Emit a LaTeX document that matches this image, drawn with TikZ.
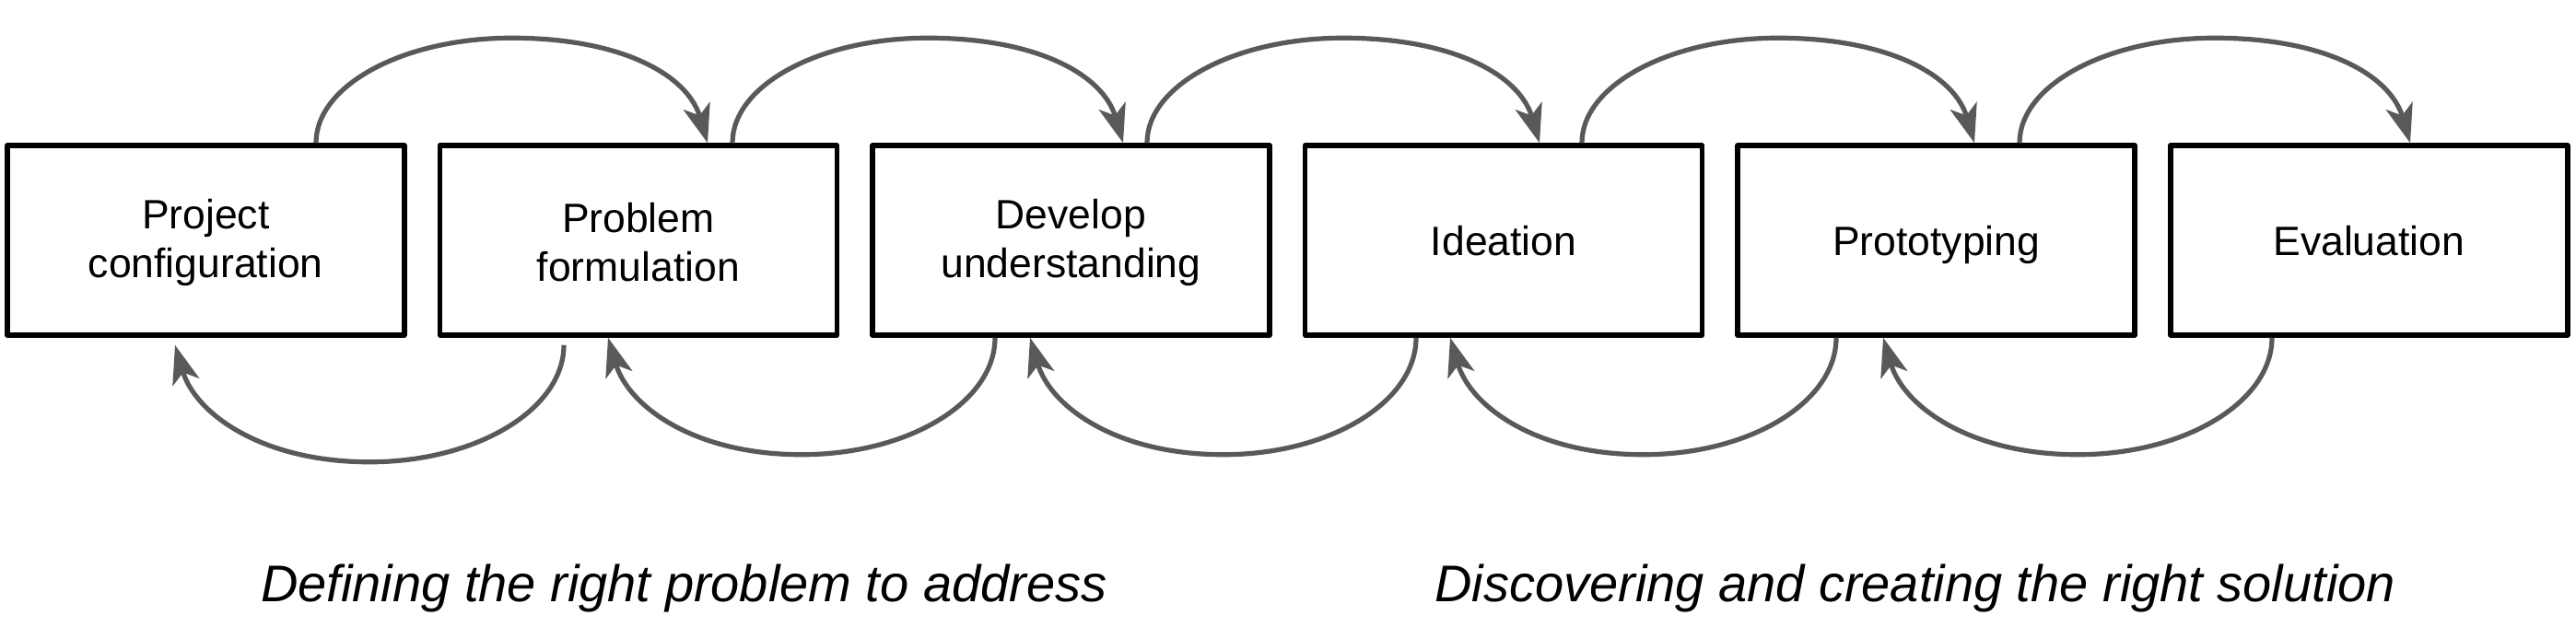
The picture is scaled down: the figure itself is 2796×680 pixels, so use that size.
\documentclass[tikz,border=0pt]{standalone}
\usepackage{fontspec}
\setmainfont{Liberation Sans}
\usetikzlibrary{arrows.meta,calc}
\definecolor{linkgray}{HTML}{595959}
\begin{document}
\begin{tikzpicture}[x=1pt,y=-1pt,
  boxbase/.style={draw=black,line width=5.5pt,line join=round,minimum width=431pt,minimum height=206pt,inner sep=0pt,font=\fontsize{44.5}{53}\selectfont},
  twoline/.style={boxbase,align=center},
  oneline/.style={boxbase,text height=32pt,text depth=0pt},
  link/.style={draw=linkgray,line width=5.2pt,-{Stealth[length=42pt,width=30pt,inset=11pt]}},
  caption/.style={anchor=base west,inner sep=0pt,font=\fontsize{56}{66}\selectfont\itshape}]
\useasboundingbox (0,0) rectangle (2796,680);
% boxes
\node[twoline] (b1) at (223.25,261) {\strut Project\\configuration};
\node[twoline] (b2) at (692.85,261) {\strut Problem\\formulation};
\node[twoline] (b3) at (1162.45,261) {\strut Develop\\understanding};
\node[oneline] (b4) at (1632.05,261) {Ideation};
\node[oneline] (b5) at (2101.65,261) {Prototyping};
\node[oneline] (b6) at (2571.25,261) {Evaluation};
% captions
\node[caption] (c1) at (283,653) {Defining the right problem to address};
\node[caption] (c2) at (1557,653) {Discovering and creating the right solution};
% top (forward) arcs
\coordinate (ts1) at ([xshift=119.75pt]b1.north);
\coordinate (te1) at ([xshift=75.15pt]b2.north);
\coordinate (ts2) at ([xshift=102.15pt]b2.north);
\coordinate (te2) at ([xshift=56.55pt]b3.north);
\coordinate (ts3) at ([xshift=82.55pt]b3.north);
\coordinate (te3) at ([xshift=38.95pt]b4.north);
\coordinate (ts4) at ([xshift=84.95pt]b4.north);
\coordinate (te4) at ([xshift=41.35pt]b5.north);
\coordinate (ts5) at ([xshift=90.35pt]b5.north);
\coordinate (te5) at ([xshift=44.75pt]b6.north);
\foreach \i in {1,...,5}{
  \draw[link] (ts\i) .. controls +(0,-63) and +(-117,0) .. ($(ts\i)!.5!(te\i)+(0,-114)$) .. controls +(117,0) and +(-22,-75) .. (te\i);
}
% bottom (backward) arcs
\coordinate (ls1) at ([xshift=-80.85pt,yshift=-8pt]b2.south);
\coordinate (le1) at ([xshift=-33.25pt,yshift=-8pt]b1.south);
\coordinate (ls2) at ([xshift=-82.45pt]b3.south);
\coordinate (le2) at ([xshift=-32.85pt]b2.south);
\coordinate (ls3) at ([xshift=-95.05pt]b4.south);
\coordinate (le3) at ([xshift=-44.45pt]b3.south);
\coordinate (ls4) at ([xshift=-108.65pt]b5.south);
\coordinate (le4) at ([xshift=-58.05pt]b4.south);
\coordinate (ls5) at ([xshift=-105.25pt]b6.south);
\coordinate (le5) at ([xshift=-57.65pt]b5.south);
\foreach \i in {1,...,5}{
  \draw[link] (ls\i) .. controls +(0,70) and +(116,0) .. ($(ls\i)!.5!(le\i)+(0,127)$) .. controls +(-116,0) and +(22,75) .. (le\i);
}
\end{tikzpicture}
\end{document}
